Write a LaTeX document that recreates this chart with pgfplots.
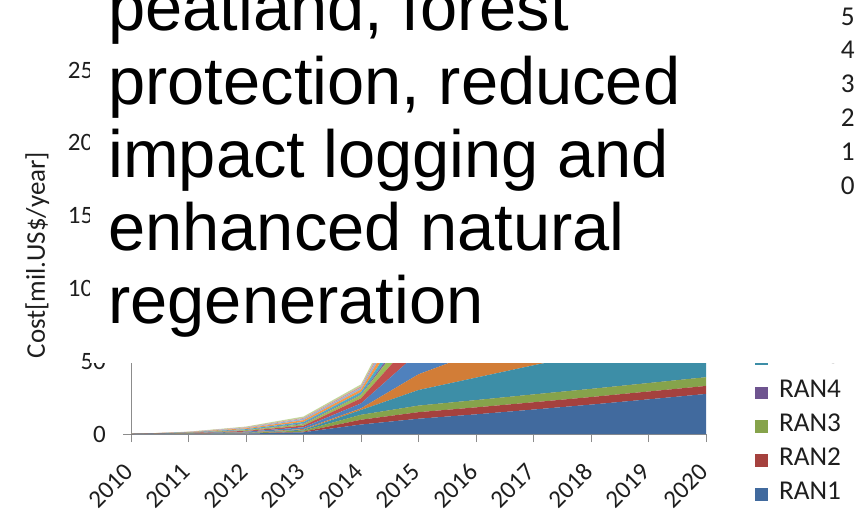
\documentclass[border=0pt]{standalone}
\usepackage{fontspec}
\usepackage{pgfplots}
\usepackage{pgfplotstable}
\pgfplotsset{compat=1.18}
\setmainfont{Carlito}
\newfontfamily\arialfont{Liberation Sans}
\newfontfamily\calfont{Carlito}

% series colours
\definecolor{ranA}{HTML}{416A9E}
\definecolor{ranB}{HTML}{A5413E}
\definecolor{ranC}{HTML}{86A34B}
\definecolor{ranD}{HTML}{6E548F}
\definecolor{ranE}{HTML}{3D8EA7}
\definecolor{ranF}{HTML}{D27D37}
\definecolor{ranG}{HTML}{4F81BD}
\definecolor{ranH}{HTML}{C0504D}
\definecolor{ranI}{HTML}{9BBB59}
\definecolor{ranJ}{HTML}{8064A2}
\definecolor{ranK}{HTML}{4BACC6}
\definecolor{ranL}{HTML}{F79646}
\definecolor{ranM}{HTML}{95B3D7}
\definecolor{ranN}{HTML}{D99694}
\definecolor{ranO}{HTML}{C3D69B}
\definecolor{axisgray}{HTML}{8C8C8C}
\definecolor{labeltext}{HTML}{1E1E1E}

% annual cost per region [mil. US$/year]
\pgfplotstableread{
year r1   r2   r3   r4  r5   r6   r7   r8   r9   r10  r11  r12  r13  r14  r15
2010 0    0    0    0   0    0    0    0    0    0    0    0    0    0    0
2011 0.1  0.05 0.1  0   0.1  0.1  0.15 0.15 0.15 0.1  0.15 0.15 0.1  0.1  0.1
2012 0.3  0.1  0.3  0   0.2  0.2  0.5  0.5  0.5  0.2  0.5  0.6  0.4  0.3  0.5
2013 1.2  0.4  0.8  0   0.5  0.5  1.2  1.2  1.0  0.5  1.0  1.2  1.0  0.5  1.0
2014 6.5  3.3  3.4  0   3.3  1.1  3.4  3.5  2.3  0.4  1.6  1.8  1.2  1.0  1.3
2015 10.5 4.5  4.5  0   10.7 10.8 15   12.5 9    4    7    8    5    4    5
2016 13.5 4.8  5.0  0   15.4 17   18   14   10   5    8    9    6    4.5  5.5
2017 16.8 5.0  5.4  0   20   22   20   15   11   5.5  9    10   6.5  5    6
2018 20.2 5.2  5.6  0   24   26   22   16   12   6    10   11   7    5.5  6.5
2019 23.8 5.4  5.8  0   28   29   24   17   13   6.5  11   12   7.5  6    7
2020 27.5 5.5  6.0  0   32   32   26   18   14   7    12   13   8    6.5  7.5
}\costdata

\begin{document}
\begin{tikzpicture}
\clip (0pt,0pt) rectangle (866pt,-511pt);
\useasboundingbox (0pt,0pt) rectangle (866pt,-511pt);
\begin{axis}[
  at={(131pt,-434pt)}, anchor=south west,
  scale only axis, width=575pt, height=364pt,
  xmin=2010, xmax=2020, ymin=0, ymax=250,
  stack plots=y,
  axis lines*=left,
  axis line style={draw=axisgray, line width=0.9pt, -},
  xtick={2010,2011,...,2020}, ytick={0,50,...,250},
  tick align=outside, major tick length=8pt,
  tick style={draw=axisgray, line width=0.9pt},
  /pgf/number format/assume math mode=true,
  /pgf/number format/1000 sep={},
  tick label style={font=\calfont\fontsize{25}{25}\selectfont, text=labeltext},
  yticklabel style={anchor=east, inner sep=0pt, xshift=-17pt},
  xticklabel style={rotate=45, anchor=east, inner sep=0pt, xshift=-20pt, yshift=-16.4pt},
  ylabel={Cost[mil.US\$/year]},
  every axis y label/.style={at={(axis description cs:-0.1496,0.4918)}, rotate=90, anchor=base,
    font=\calfont\fontsize{27}{27}\selectfont, text=labeltext},
  legend image code/.code={\fill[#1] (0pt,-6pt) rectangle (12.5pt,6.5pt);},
  reverse legend,
  legend cell align=left,
  legend style={at={(axis description cs:1.0852,-0.1900)}, anchor=south west,
    draw=none, fill=none, inner sep=0pt, outer sep=0pt,
    font=\calfont\fontsize{27.2}{27.2}\selectfont, text=labeltext,
    row sep=16.86pt, column sep=0pt,
    nodes={inner sep=0pt, text height=13pt, text depth=4pt},
    /tikz/every odd column/.append style={column sep=11.5pt}},
]
\addplot[fill=ranA, draw=none] table[x=year, y=r1]{\costdata} \closedcycle;
\addlegendentry{RAN1}
\addplot[fill=ranB, draw=none] table[x=year, y=r2]{\costdata} \closedcycle;
\addlegendentry{RAN2}
\addplot[fill=ranC, draw=none] table[x=year, y=r3]{\costdata} \closedcycle;
\addlegendentry{RAN3}
\addplot[fill=ranD, draw=none] table[x=year, y=r4]{\costdata} \closedcycle;
\addlegendentry{RAN4}
\addplot[fill=ranE, draw=none] table[x=year, y=r5]{\costdata} \closedcycle;
\addlegendentry{RAN5}
\addplot[fill=ranF, draw=none] table[x=year, y=r6]{\costdata} \closedcycle;
\addlegendentry{RAN6}
\addplot[fill=ranG, draw=none] table[x=year, y=r7]{\costdata} \closedcycle;
\addlegendentry{RAN7}
\addplot[fill=ranH, draw=none] table[x=year, y=r8]{\costdata} \closedcycle;
\addlegendentry{RAN8}
\addplot[fill=ranI, draw=none] table[x=year, y=r9]{\costdata} \closedcycle;
\addlegendentry{RAN9}
\addplot[fill=ranJ, draw=none] table[x=year, y=r10]{\costdata} \closedcycle;
\addlegendentry{RAN10}
\addplot[fill=ranK, draw=none] table[x=year, y=r11]{\costdata} \closedcycle;
\addlegendentry{RAN11}
\addplot[fill=ranL, draw=none] table[x=year, y=r12]{\costdata} \closedcycle;
\addlegendentry{RAN12}
\addplot[fill=ranM, draw=none] table[x=year, y=r13]{\costdata} \closedcycle;
\addlegendentry{RAN13}
\addplot[fill=ranN, draw=none] table[x=year, y=r14]{\costdata} \closedcycle;
\addlegendentry{RAN14}
\addplot[fill=ranO, draw=none] table[x=year, y=r15]{\costdata} \closedcycle;
\addlegendentry{RAN15}
\end{axis}
% slide text box laid over the upper part of the chart
\fill[white] (90pt,2pt) rectangle (841pt,-363pt);
\begin{scope}[every node/.style={anchor=base west, inner sep=0pt,
    font=\arialfont\fontsize{66.8}{72}\selectfont}]
\node at (108.2pt,-31pt)  {peatland, forest};
\node at (108.2pt,-104pt) {protection, reduced};
\node at (108.2pt,-177pt) {impact logging and};
\node at (108.2pt,-250pt) {enhanced natural};
\node at (108.2pt,-323pt) {regeneration};
\end{scope}
\end{tikzpicture}
\end{document}
